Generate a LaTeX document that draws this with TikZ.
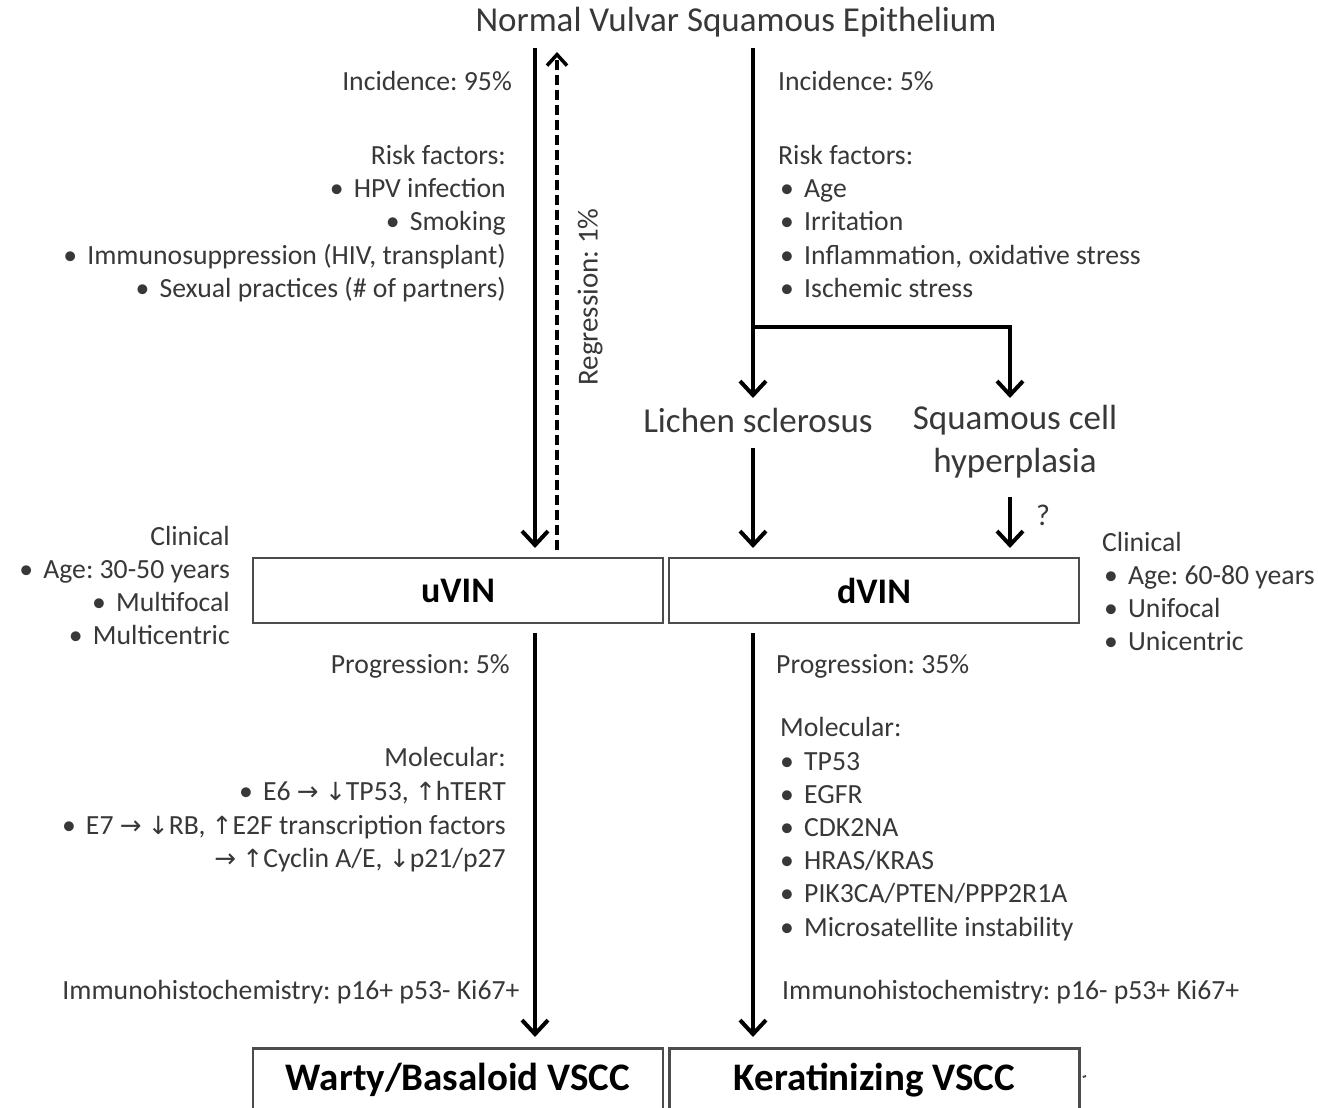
\documentclass[tikz,border=0pt]{standalone}
\usepackage{fontspec}
\setmainfont{Carlito}
\newfontfamily\symf{DejaVu Sans}
\usetikzlibrary{arrows.meta}
\frenchspacing
\newcommand{\bul}{\makebox[24pt][l]{\textbullet}}
\newcommand{\ra}{{\symf\fontsize{26}{26}\selectfont →}}
\newcommand{\da}{{\symf\fontsize{25}{25}\selectfont ↓}}
\newcommand{\ua}{{\symf\fontsize{25}{25}\selectfont ↑}}
\begin{document}
\begin{tikzpicture}[x=1pt,y=-1pt,
  txt/.style={inner sep=0pt,text=black!78,font=\fontsize{27.7}{33}\selectfont,text height=22pt,text depth=3pt},
  big/.style={inner sep=0pt,text=black!78,font=\fontsize{35}{43}\selectfont,align=center},
  boxn/.style={draw=black!70,line width=2.5pt,minimum width=410pt,minimum height=65pt,inner sep=0pt,font=\fontsize{36}{40}\selectfont\bfseries},
  arr/.style={line width=4pt,-{Straight Barb[length=14pt,width=26pt]}},
  ln/.style={line width=4pt},
  dsh/.style={line width=3.5pt,dash pattern=on 10pt off 5pt,-{Straight Barb[length=11pt,width=20pt]}}
]
\useasboundingbox (0,0) rectangle (1318,1108);
\clip (0,0) rectangle (1318,1108);
\fill[white] (0,0) rectangle (1318,1108);

% main title
\node[big] (top) at (736,22) {Normal Vulvar Squamous Epithelium};

% boxes
\node[boxn] (uvin) at (458,590.5) {uVIN};
\node[boxn] (dvin) at (874,590.5) {dVIN};
\node[boxn,minimum height=80pt,anchor=north] (wb) at (458,1047) {};
\node[boxn,minimum height=80pt,anchor=north] (kv) at (874.5,1047) {};
\node[font=\fontsize{39}{44}\selectfont\bfseries,inner sep=0pt] (wbt) at (458,1080) {Warty/Basaloid VSCC};
\node[font=\fontsize{39}{44}\selectfont\bfseries,inner sep=0pt] (kvt) at (874.5,1080) {Keratinizing VSCC};

% intermediate nodes
\node[big] (ls) at (758,420) {Lichen sclerosus};
\node[big] (sch) at (1015,442) {Squamous cell\\hyperplasia};
\node[txt,font=\fontsize{30}{33}\selectfont] (q) at (1043,516) {?};

% coordinates
\coordinate (lA) at (535,48);
\coordinate (lB) at (535,548);
\coordinate (dA) at (557,550);
\coordinate (dB) at (557,52);
\coordinate (rA) at (753,48);
\coordinate (br) at (753,327);
\coordinate (brR) at (1010,327);
\coordinate (lsTip) at (753,398);
\coordinate (schTip) at (1010,398);
\coordinate (ls2A) at (753,448);
\coordinate (ls2B) at (753,548);
\coordinate (sc2A) at (1010,497);
\coordinate (sc2B) at (1010,548);
\coordinate (u2A) at (535,633);
\coordinate (u2B) at (535,1037);
\coordinate (d2A) at (753,633);
\coordinate (d2B) at (753,1037);
\coordinate (tk) at (1086,1076);

% connectors
\draw[arr] (lA) -- (lB);
\draw[dsh] (dA) -- (dB);
\draw[ln] (rA) -- (br);
\draw[arr] (br) -- (lsTip);
\draw[ln,line join=miter] (br) -- (brR) -- ++(0,5);
\draw[arr] (brR) -- (schTip);
\draw[arr] (ls2A) -- (ls2B);
\draw[arr] (sc2A) -- (sc2B);
\draw[arr] (u2A) -- (u2B);
\draw[arr] (d2A) -- (d2B);
\draw[line width=2pt,black!70] (kv.east |- tk) ++(2,1) -- (tk);

% regression label
\node[txt,rotate=90,font=\fontsize{29}{33}\selectfont] (reg) at (588,297) {Regression: 1\%};

% left column
\node[txt,anchor=east] (inc1) at (512,81) {Incidence: 95\%};
\node[txt,anchor=east] (rf1) at (506,155) {Risk factors:};
\node[txt,anchor=east] (r11) at (506,188) {\bul HPV infection};
\node[txt,anchor=east] (r12) at (506,221) {\bul Smoking};
\node[txt,anchor=east] (r13) at (506,255) {\bul Immunosuppression (HIV, transplant)};
\node[txt,anchor=east] (r14) at (506,288) {\bul Sexual practices (\# of partners)};

% right column
\node[txt,anchor=west] (inc2) at (778,81) {Incidence: 5\%};
\node[txt,anchor=west] (rf2) at (778,155) {Risk factors:};
\node[txt,anchor=west] (r21) at (780,188) {\bul Age};
\node[txt,anchor=west] (r22) at (780,221) {\bul Irritation};
\node[txt,anchor=west] (r23) at (780,255) {\bul Inflammation, oxidative stress};
\node[txt,anchor=west] (r24) at (780,288) {\bul Ischemic stress};

% clinical left
\node[txt,anchor=east] (cl1) at (230,536) {Clinical};
\node[txt,anchor=east] (cl11) at (230,569) {\bul Age: 30-50 years};
\node[txt,anchor=east] (cl12) at (230,602) {\bul Multifocal};
\node[txt,anchor=east] (cl13) at (230,635) {\bul Multicentric};

% clinical right
\node[txt,anchor=west] (cl2) at (1102,542) {Clinical};
\node[txt,anchor=west] (cl21) at (1104,575) {\bul Age: 60-80 years};
\node[txt,anchor=west] (cl22) at (1104,608) {\bul Unifocal};
\node[txt,anchor=west] (cl23) at (1104,641) {\bul Unicentric};

% progression
\node[txt,anchor=east] (pr1) at (510,664) {Progression: 5\%};
\node[txt,anchor=west] (pr2) at (776,664) {Progression: 35\%};

% molecular left
\node[txt,anchor=east] (m1) at (506,757) {Molecular:};
\node[txt,anchor=east] (m11) at (506,791) {\bul E6 \ra\ \da TP53, \ua hTERT};
\node[txt,anchor=east] (m12) at (506,825) {\bul E7 \ra\ \da RB, \ua E2F transcription factors};
\node[txt,anchor=east] (m13) at (506,858) {\ra\ \ua Cyclin A/E, \da p21/p27};

% molecular right
\node[txt,anchor=west] (m2) at (780,727) {Molecular:};
\node[txt,anchor=west] (m21) at (780,761) {\bul TP53};
\node[txt,anchor=west] (m22) at (780,794) {\bul EGFR};
\node[txt,anchor=west] (m23) at (780,827) {\bul CDK2NA};
\node[txt,anchor=west] (m24) at (780,860) {\bul HRAS/KRAS};
\node[txt,anchor=west] (m25) at (780,893) {\bul PIK3CA/PTEN/PPP2R1A};
\node[txt,anchor=west] (m26) at (780,927) {\bul Microsatellite instability};

% IHC
\node[txt] (ihc1) at (291,990) {Immunohistochemistry: p16+ p53- Ki67+};
\node[txt,anchor=west] (ihc2) at (782,990) {Immunohistochemistry: p16- p53+ Ki67+};
\end{tikzpicture}
\end{document}
